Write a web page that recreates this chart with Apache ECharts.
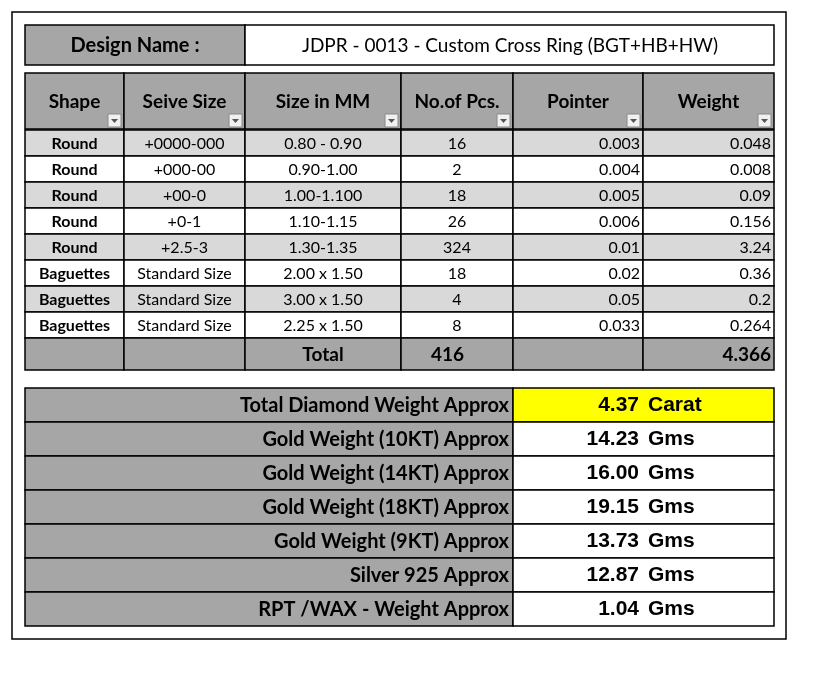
<!DOCTYPE html>
<html><head><meta charset="utf-8">
<script src="https://cdn.jsdelivr.net/npm/echarts@6/dist/echarts.min.js"></script>
<style>html,body{margin:0;background:#fff}#c{width:813px;height:681px}</style>
</head><body><div id="c"></div>
<script>
const designLabel = "Design Name :";
const designName = "JDPR - 0013 - Custom Cross Ring (BGT+HB+HW)";
const headers = ["Shape", "Seive Size", "Size in MM", "No.of Pcs.", "Pointer", "Weight"];
const shapes = ["Round", "Round", "Round", "Round", "Round", "Baguettes", "Baguettes", "Baguettes"];
const sieves = ["+0000-000", "+000-00", "+00-0", "+0-1", "+2.5-3", "Standard Size", "Standard Size", "Standard Size"];
const sizes = ["0.80 - 0.90", "0.90-1.00", "1.00-1.100", "1.10-1.15", "1.30-1.35", "2.00 x 1.50", "3.00 x 1.50", "2.25 x 1.50"];
const pcs = [16, 2, 18, 26, 324, 18, 4, 8];
const pointers = ["0.003", "0.004", "0.005", "0.006", "0.01", "0.02", "0.05", "0.033"];
const weights = ["0.048", "0.008", "0.09", "0.156", "3.24", "0.36", "0.2", "0.264"];
const totalPcs = "416";
const totalWeight = "4.366";
const summaryLabels = ["Total Diamond Weight Approx", "Gold Weight (10KT) Approx", "Gold Weight (14KT) Approx",
  "Gold Weight (18KT) Approx", "Gold Weight (9KT) Approx", "Silver 925 Approx", "RPT /WAX - Weight Approx"];
const summaryValues = ["4.37", "14.23", "16.00", "19.15", "13.73", "12.87", "1.04"];
const summaryUnits = ["Carat", "Gms", "Gms", "Gms", "Gms", "Gms", "Gms"];

const GRAY = "#a6a6a6", LIGHT = "#d9d9d9", FONT = "Lato, 'Open Sans', sans-serif";
const cols = [25, 124, 245, 401, 513, 643, 774];
const els = [];
function cell(x, y, w, h, fill) {
  els.push({ type: "rect", shape: { x, y, width: w, height: h }, style: { fill, stroke: "#000", lineWidth: 1.5 } });
}
function txt(s, x, y, align, size, bold, font) {
  els.push({ type: "text", x, y, style: { text: s, align, verticalAlign: "middle", fontSize: size,
    fontWeight: bold ? "bold" : "normal", fontFamily: font || FONT, fill: "#000" } });
}
// outer frame
els.push({ type: "rect", shape: { x: 12, y: 12, width: 774, height: 627 }, style: { fill: "none", stroke: "#000", lineWidth: 1.5 } });
// design row
cell(25, 25, 220, 40, GRAY); txt(designLabel, 135, 46, "center", 20, true);
cell(245, 25, 529, 40, "#fff"); txt(designName, 510, 46, "center", 19, false);
// header
const hy = 73, hh = 56;
headers.forEach((h, i) => {
  const x = cols[i], w = cols[i + 1] - cols[i];
  cell(x, hy, w, hh, GRAY);
  txt(h, x + w / 2, hy + 29, "center", 19, true);
  els.push({ type: "rect", shape: { x: x + w - 16, y: hy + hh - 15, width: 13, height: 13 }, style: { fill: "#f0f0f0", stroke: "#888", lineWidth: 1 } });
  els.push({ type: "polygon", shape: { points: [[x + w - 13, hy + hh - 10], [x + w - 6, hy + hh - 10], [x + w - 9.5, hy + hh - 6]] }, style: { fill: "#555" } });
});
// data rows
const rh = 26;
shapes.forEach((s, r) => {
  const y = 130 + r * rh, fill = r % 2 === 0 ? LIGHT : "#fff";
  const vals = [s, sieves[r], sizes[r], String(pcs[r]), pointers[r], weights[r]];
  vals.forEach((v, i) => {
    const x = cols[i], w = cols[i + 1] - cols[i];
    cell(x, y, w, rh, fill);
    const right = i >= 4;
    txt(v, right ? x + w - 3 : x + w / 2, y + rh / 2 + 1, right ? "right" : "center", 16, i === 0);
  });
});
// total row
const ty = 130 + shapes.length * rh, th = 32;
const totals = ["", "", "Total", totalPcs, "", totalWeight];
totals.forEach((v, i) => {
  const x = cols[i], w = cols[i + 1] - cols[i];
  cell(x, ty, w, th, GRAY);
  if (v) txt(v, i === 5 ? x + w - 3 : (i === 3 ? x + 30 : x + w / 2), ty + th / 2 + 1, i === 5 ? "right" : (i === 3 ? "left" : "center"), 19, true);
});
// summary
summaryLabels.forEach((l, r) => {
  const y = 388 + r * 34;
  cell(25, y, 488, 34, GRAY);
  txt(l, 509, y + 18, "right", 20, true);
  cell(513, y, 261, 34, r === 0 ? "#ffff00" : "#fff");
  txt(summaryValues[r], 639, y + 17, "right", 21, true, "'Liberation Sans', Arial, sans-serif");
  txt(summaryUnits[r], 648, y + 17, "left", 21, true, "'Liberation Sans', Arial, sans-serif");
});

const chart = echarts.init(document.getElementById("c"));
chart.setOption({ animation: false, graphic: { elements: els } });
</script></body></html>
